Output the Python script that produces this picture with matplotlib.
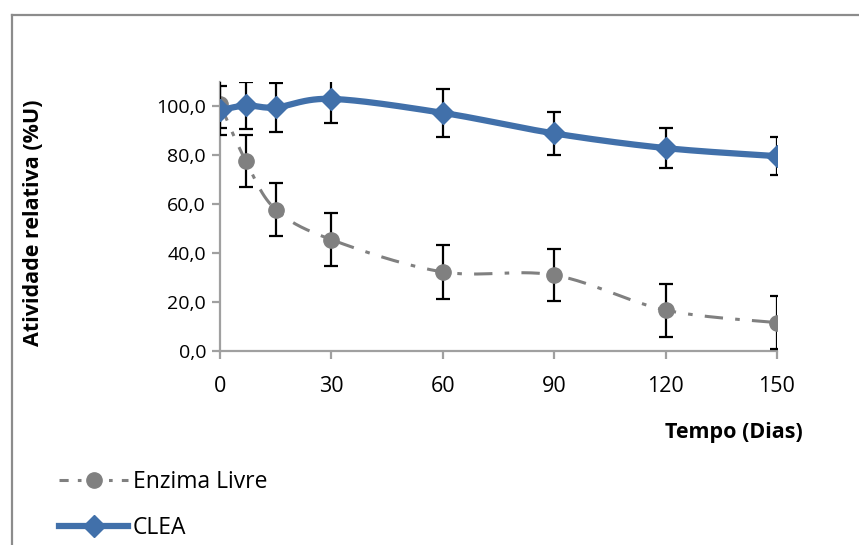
import numpy as np
import matplotlib
matplotlib.use("Agg")
import matplotlib.pyplot as plt
from matplotlib.lines import Line2D

plt.rcParams['font.family'] = ['Open Sans', 'DejaVu Sans']

dias = [0, 7, 15, 30, 60, 90, 120, 150]
enzima_livre = [101.0, 77.5, 57.8, 45.5, 32.3, 31.0, 16.7, 11.6]
enzima_livre_err = [10.0, 10.7, 10.8, 10.9, 11.0, 10.7, 10.8, 10.8]
clea = [98.3, 100.3, 99.5, 103.0, 97.3, 88.9, 82.9, 79.6]
clea_err = [10.0, 9.8, 9.9, 10.0, 9.7, 8.9, 8.3, 7.9]
x_ticks = [0, 30, 60, 90, 120, 150]
y_ticks = [0, 20, 40, 60, 80, 100]

C_BLUE = '#4170AA'
C_GRAY = '#808080'


def smooth(xs, ys, n=30):
    # Excel-like smoothed curve (Bezier through the data points)
    xs = np.asarray(xs, float); ys = np.asarray(ys, float)
    px, py = [], []
    for i in range(len(xs) - 1):
        x0, y0 = (xs[i - 1], ys[i - 1]) if i > 0 else (xs[i], ys[i])
        x1, y1 = xs[i], ys[i]
        x2, y2 = xs[i + 1], ys[i + 1]
        x3, y3 = (xs[i + 2], ys[i + 2]) if i + 2 < len(xs) else (xs[i + 1], ys[i + 1])
        c1x, c1y = x1 + (x2 - x0) / 6, y1 + (y2 - y0) / 6
        c2x, c2y = x2 - (x3 - x1) / 6, y2 - (y3 - y1) / 6
        t = np.linspace(0, 1, n)
        bx = (1 - t) ** 3 * x1 + 3 * (1 - t) ** 2 * t * c1x + 3 * (1 - t) * t ** 2 * c2x + t ** 3 * x2
        by = (1 - t) ** 3 * y1 + 3 * (1 - t) ** 2 * t * c1y + 3 * (1 - t) * t ** 2 * c2y + t ** 3 * y2
        px.extend(bx); py.extend(by)
    return np.array(px), np.array(py)


fig = plt.figure(figsize=(8.59, 5.45), dpi=100)
ax = fig.add_axes([0.256, 0.356, 0.6485, 0.494])

# Enzima livre
sx, sy = smooth(dias, enzima_livre)
ax.plot(sx, sy, color=C_GRAY, lw=2.2, dashes=(6, 4, 1.5, 4), zorder=2)
ax.errorbar(dias, enzima_livre, yerr=enzima_livre_err, fmt='none', ecolor='black',
            elinewidth=1.6, capsize=5, capthick=1.6, zorder=3)
ax.plot(dias, enzima_livre, 'o', color=C_GRAY, ms=11, zorder=4)

# CLEA
sx, sy = smooth(dias, clea)
ax.plot(sx, sy, color=C_BLUE, lw=4.5, solid_capstyle='round', zorder=5)
ax.errorbar(dias, clea, yerr=clea_err, fmt='none', ecolor='black',
            elinewidth=1.6, capsize=5, capthick=1.6, zorder=6)
ax.plot(dias, clea, 'D', color=C_BLUE, ms=11, zorder=7)

ax.set_xlim(0, 150)
ax.set_ylim(0, 110)
ax.set_xticks(x_ticks)
ax.set_yticks(y_ticks)
ax.set_xticklabels([str(v) for v in x_ticks], fontsize=15.5)
ax.set_yticklabels([f"{v:.1f}".replace('.', ',') for v in y_ticks], fontsize=14)
for s in ['top', 'right']:
    ax.spines[s].set_visible(False)
for s in ['left', 'bottom']:
    ax.spines[s].set_color('#A0A0A0')
    ax.spines[s].set_linewidth(1.6)
ax.tick_params(axis='x', direction='out', length=6, width=1.6, color='#A0A0A0', pad=12)
ax.tick_params(axis='y', direction='out', length=6, width=1.6, color='#A0A0A0', pad=4)

fig.text(0.0395, 0.592, 'Atividade relativa (%U)', rotation=90, fontsize=15.5,
         fontweight='bold', ha='center', va='center')
fig.text(0.935, 0.207, 'Tempo (Dias)', fontsize=15.5, fontweight='bold',
         ha='right', va='center')

# legend
h1 = Line2D([], [], color=C_GRAY, lw=2.2, dashes=(3, 3, 1.2, 3), marker='o', ms=11)
h2 = Line2D([], [], color=C_BLUE, lw=4.5, marker='D', ms=11)
fig.legend([h1, h2], ['Enzima Livre', 'CLEA'], loc='center left',
           bbox_to_anchor=(0.045, 0.074), frameon=False, fontsize=16.5,
           handlelength=3.0, handletextpad=0.2, labelspacing=0.97)

# chart border
fig.add_artist(Line2D([0.014, 0.014], [0, 0.972], color='#8C8C8C', lw=1.6, transform=fig.transFigure))
fig.add_artist(Line2D([0.014, 1.0], [0.972, 0.972], color='#8C8C8C', lw=1.6, transform=fig.transFigure))

fig.savefig('out.png', dpi=100)
